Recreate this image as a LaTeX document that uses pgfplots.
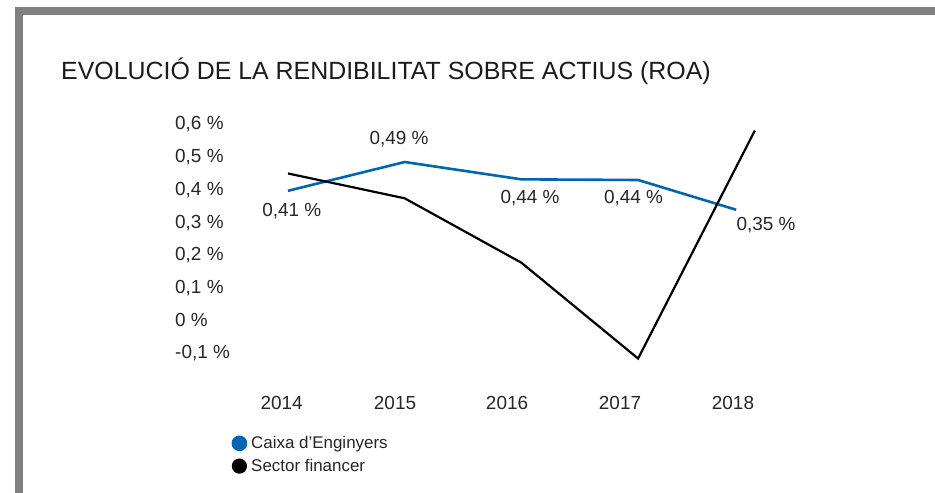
\documentclass[border=0pt]{standalone}
\usepackage{pgfplots}
\pgfplotsset{compat=1.18}
\usepackage{fontspec}
\setmainfont{Liberation Sans}
\definecolor{cblue}{RGB}{0,101,179}
\definecolor{frame}{RGB}{128,128,128}
\definecolor{txt}{RGB}{38,38,38}

\begin{document}
\begin{tikzpicture}
% page size = 935 x 493 bp
\path (0bp,0bp) rectangle (935bp,493bp);
\fill[frame] (15bp,0bp) rectangle (23bp,485.7bp);
\fill[frame] (15bp,477.7bp) rectangle (935bp,485.7bp);
\node[anchor=base west, inner sep=0pt, font=\fontsize{25}{28}\selectfont, text=txt!70!black] at (61bp,413bp) {EVOLUCIÓ DE LA RENDIBILITAT SOBRE ACTIUS (ROA)};

\begin{axis}[
  at={(229.65bp,124.65bp)}, anchor=south west,
  scale only axis, width=583.5bp, height=261.6bp,
  xmin=-0.5, xmax=4.5, ymin=-0.15, ymax=0.65,
  axis line style={draw=none}, major tick length=0pt,
  font=\fontsize{19}{22}\selectfont,
  ticklabel style={text=txt},
  xtick={-0.054,0.917,1.877,2.845,3.813},
  xticklabels={2014,2015,2016,2017,2018},
  xticklabel style={anchor=base, inner sep=0pt, yshift=-41bp},
  ytick={-0.1,0,0.1,0.2,0.3,0.4,0.5,0.6},
  yticklabels={{-0,1 \%},{0 \%},{0,1 \%},{0,2 \%},{0,3 \%},{0,4 \%},{0,5 \%},{0,6 \%}},
  yticklabel style={anchor=base west, inner sep=0pt, xshift=-54.65bp, yshift=-6.8bp},
  clip=false,
  legend style={at={(axis description cs:0.003,-0.252)}, anchor=north west, draw=none, fill=none,
    font=\fontsize{17}{20}\selectfont, text=txt, row sep=5bp, inner sep=0pt,
    nodes={inner xsep=4bp}},
  legend cell align=left,
  legend image code/.code={\fill[#1] (0.1em,0) circle (6.5bp);},
]
\addplot[color=cblue, line width=2.6bp] coordinates {
  (0,0.393) (1,0.481) (2,0.428) (3,0.426) (3.84,0.335)};
\addplot[color=black, line width=2.2bp] coordinates {
  (0,0.446) (1,0.370) (2,0.173) (3,-0.120) (4,0.577)};
\legend{Caixa d’Enginyers, Sector financer}

\node[font=\fontsize{19}{22}\selectfont, text=txt] at (axis cs:0.032,0.3321) {0,41 \%};
\node[font=\fontsize{19}{22}\selectfont, text=txt] at (axis cs:0.951,0.5505) {0,49 \%};
\node[font=\fontsize{19}{22}\selectfont, text=txt] at (axis cs:2.074,0.3719) {0,44 \%};
\node[font=\fontsize{19}{22}\selectfont, text=txt] at (axis cs:2.961,0.3719) {0,44 \%};
\node[font=\fontsize{19}{22}\selectfont, text=txt] at (axis cs:4.096,0.2893) {0,35 \%};
\end{axis}
\end{tikzpicture}
\end{document}
